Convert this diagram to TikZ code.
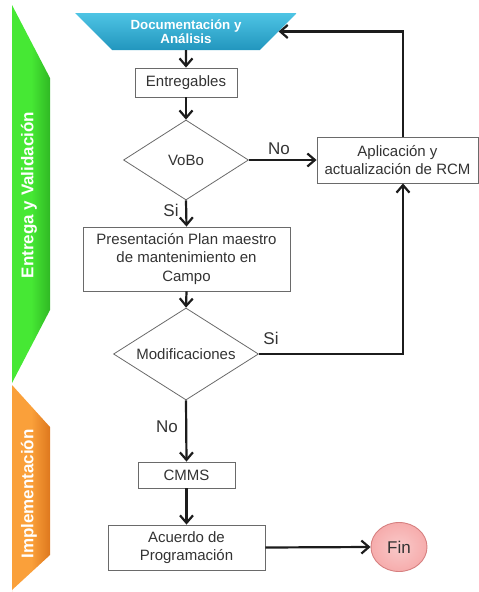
\documentclass[tikz,border=0pt]{standalone}
\usepackage{fontspec}
\setmainfont{Liberation Sans}
\usetikzlibrary{shapes.geometric,arrows.meta,calc}

\definecolor{inkline}{HTML}{1C1C1C}
\definecolor{boxedge}{HTML}{6A6A6A}
\definecolor{boxtext}{HTML}{333333}
\definecolor{gLight}{RGB}{70,232,52}
\definecolor{gDark}{RGB}{48,185,36}
\definecolor{oLight}{RGB}{250,160,58}
\definecolor{oDark}{RGB}{222,120,30}
\definecolor{bTop}{RGB}{78,196,228}
\definecolor{bBot}{RGB}{34,150,190}
\definecolor{finFill}{RGB}{246,172,172}
\definecolor{finEdge}{RGB}{214,128,128}

\tikzset{
  procbox/.style={draw=boxedge, line width=0.9pt, fill=white, rectangle,
    inner sep=0pt, align=center, text=boxtext, font=\fontsize{15}{18.5}\selectfont},
  decision/.style={draw=boxedge, line width=0.8pt, fill=white, diamond,
    inner sep=0pt, align=center, text=boxtext, font=\fontsize{15}{18.5}\selectfont},
  flow/.style={draw=inkline, line width=2.2pt,
    -{Straight Barb[length=7.5pt,width=13pt,line width=2.2pt]}},
  branch/.style={text=boxtext, font=\fontsize{17}{20}\selectfont, inner sep=0pt},
  bandtext/.style={text=white, font=\bfseries\fontsize{17}{20}\selectfont,
    rotate=90, inner sep=0pt},
}

\begin{document}
\begin{tikzpicture}[x=1pt, y=-1pt]
\useasboundingbox (0,0) rectangle (479,592);

% phase bands on the left
\shade[left color=gLight, right color=gDark, middle color=gLight]
  (12,5) -- (50,78) -- (50,310) -- (12,383) -- cycle;
\shade[left color=oLight, right color=oDark, middle color=oLight]
  (12,385) -- (50,427) -- (50,555) -- (12,590) -- (12,592) -- cycle;
\node[bandtext] (bandA) at (29,195) {Entrega y Validación};
\node[bandtext] (bandB) at (29,494) {Implementación};

% flow nodes
\node[trapezium, trapezium angle=40.7, shape border rotate=180,
      trapezium stretches=true, minimum width=222pt, minimum height=37pt,
      top color=bTop, bottom color=bBot, inner sep=0pt, text=white,
      align=center, font=\bfseries\fontsize{13.3}{14}\selectfont]
  (doc) at (186,31.5) {Documentación y\\Análisis};
\node[procbox, minimum width=102pt, minimum height=29pt] (ent) at (186,82.5) {Entregables};
\node[decision, minimum width=125pt, minimum height=80pt, aspect=1.5625] (vobo) at (186,160) {VoBo};
\node[procbox, minimum width=161pt, minimum height=46pt] (apl) at (397.5,160)
  {Aplicación y\\actualización de RCM};
\node[procbox, minimum width=207pt, minimum height=64pt] (pres) at (186.5,259)
  {Presentación Plan maestro\\de mantenimiento en\\Campo};
\node[decision, minimum width=145pt, minimum height=92pt, aspect=1.576] (mod) at (186,354) {Modificaciones};
\node[procbox, minimum width=97pt, minimum height=26pt] (cmms) at (186.5,475) {CMMS};
\node[procbox, minimum width=157pt, minimum height=45pt] (acu) at (186.5,547.5)
  {Acuerdo de\\Programación};
\node[ellipse, draw=finEdge, line width=0.9pt, inner color=finFill!65!white,
      outer color=finFill, minimum width=56pt, minimum height=49pt,
      inner sep=0pt, text=boxtext, font=\fontsize{17}{20}\selectfont]
  (fin) at (399,547) {Fin};

% connectors
\draw[flow] (doc.south) -- (ent.north);
\draw[flow] (ent.south) -- (vobo.north);
\draw[flow] (vobo.east) -- (apl.west);
\draw[flow] (vobo.south) -- (pres.north);
\draw[flow] (pres.south) -- (mod.north);
\draw[flow] (mod.east) -| ([xshift=5.5pt]apl.south);
\draw[flow] ([xshift=5.5pt]apl.north) |- (doc.0);
\draw[flow] (mod.south) -- (cmms.north);
\draw[flow] (cmms.south) -- (acu.north);
\draw[flow] (acu.east) -- (fin.west);

% branch labels
\node[branch] (lNo1) at (279,149) {No};
\node[branch] (lSi1) at (171,210) {Si};
\node[branch] (lSi2) at (271,338) {Si};
\node[branch] (lNo2) at (167,427) {No};
\end{tikzpicture}
\end{document}
